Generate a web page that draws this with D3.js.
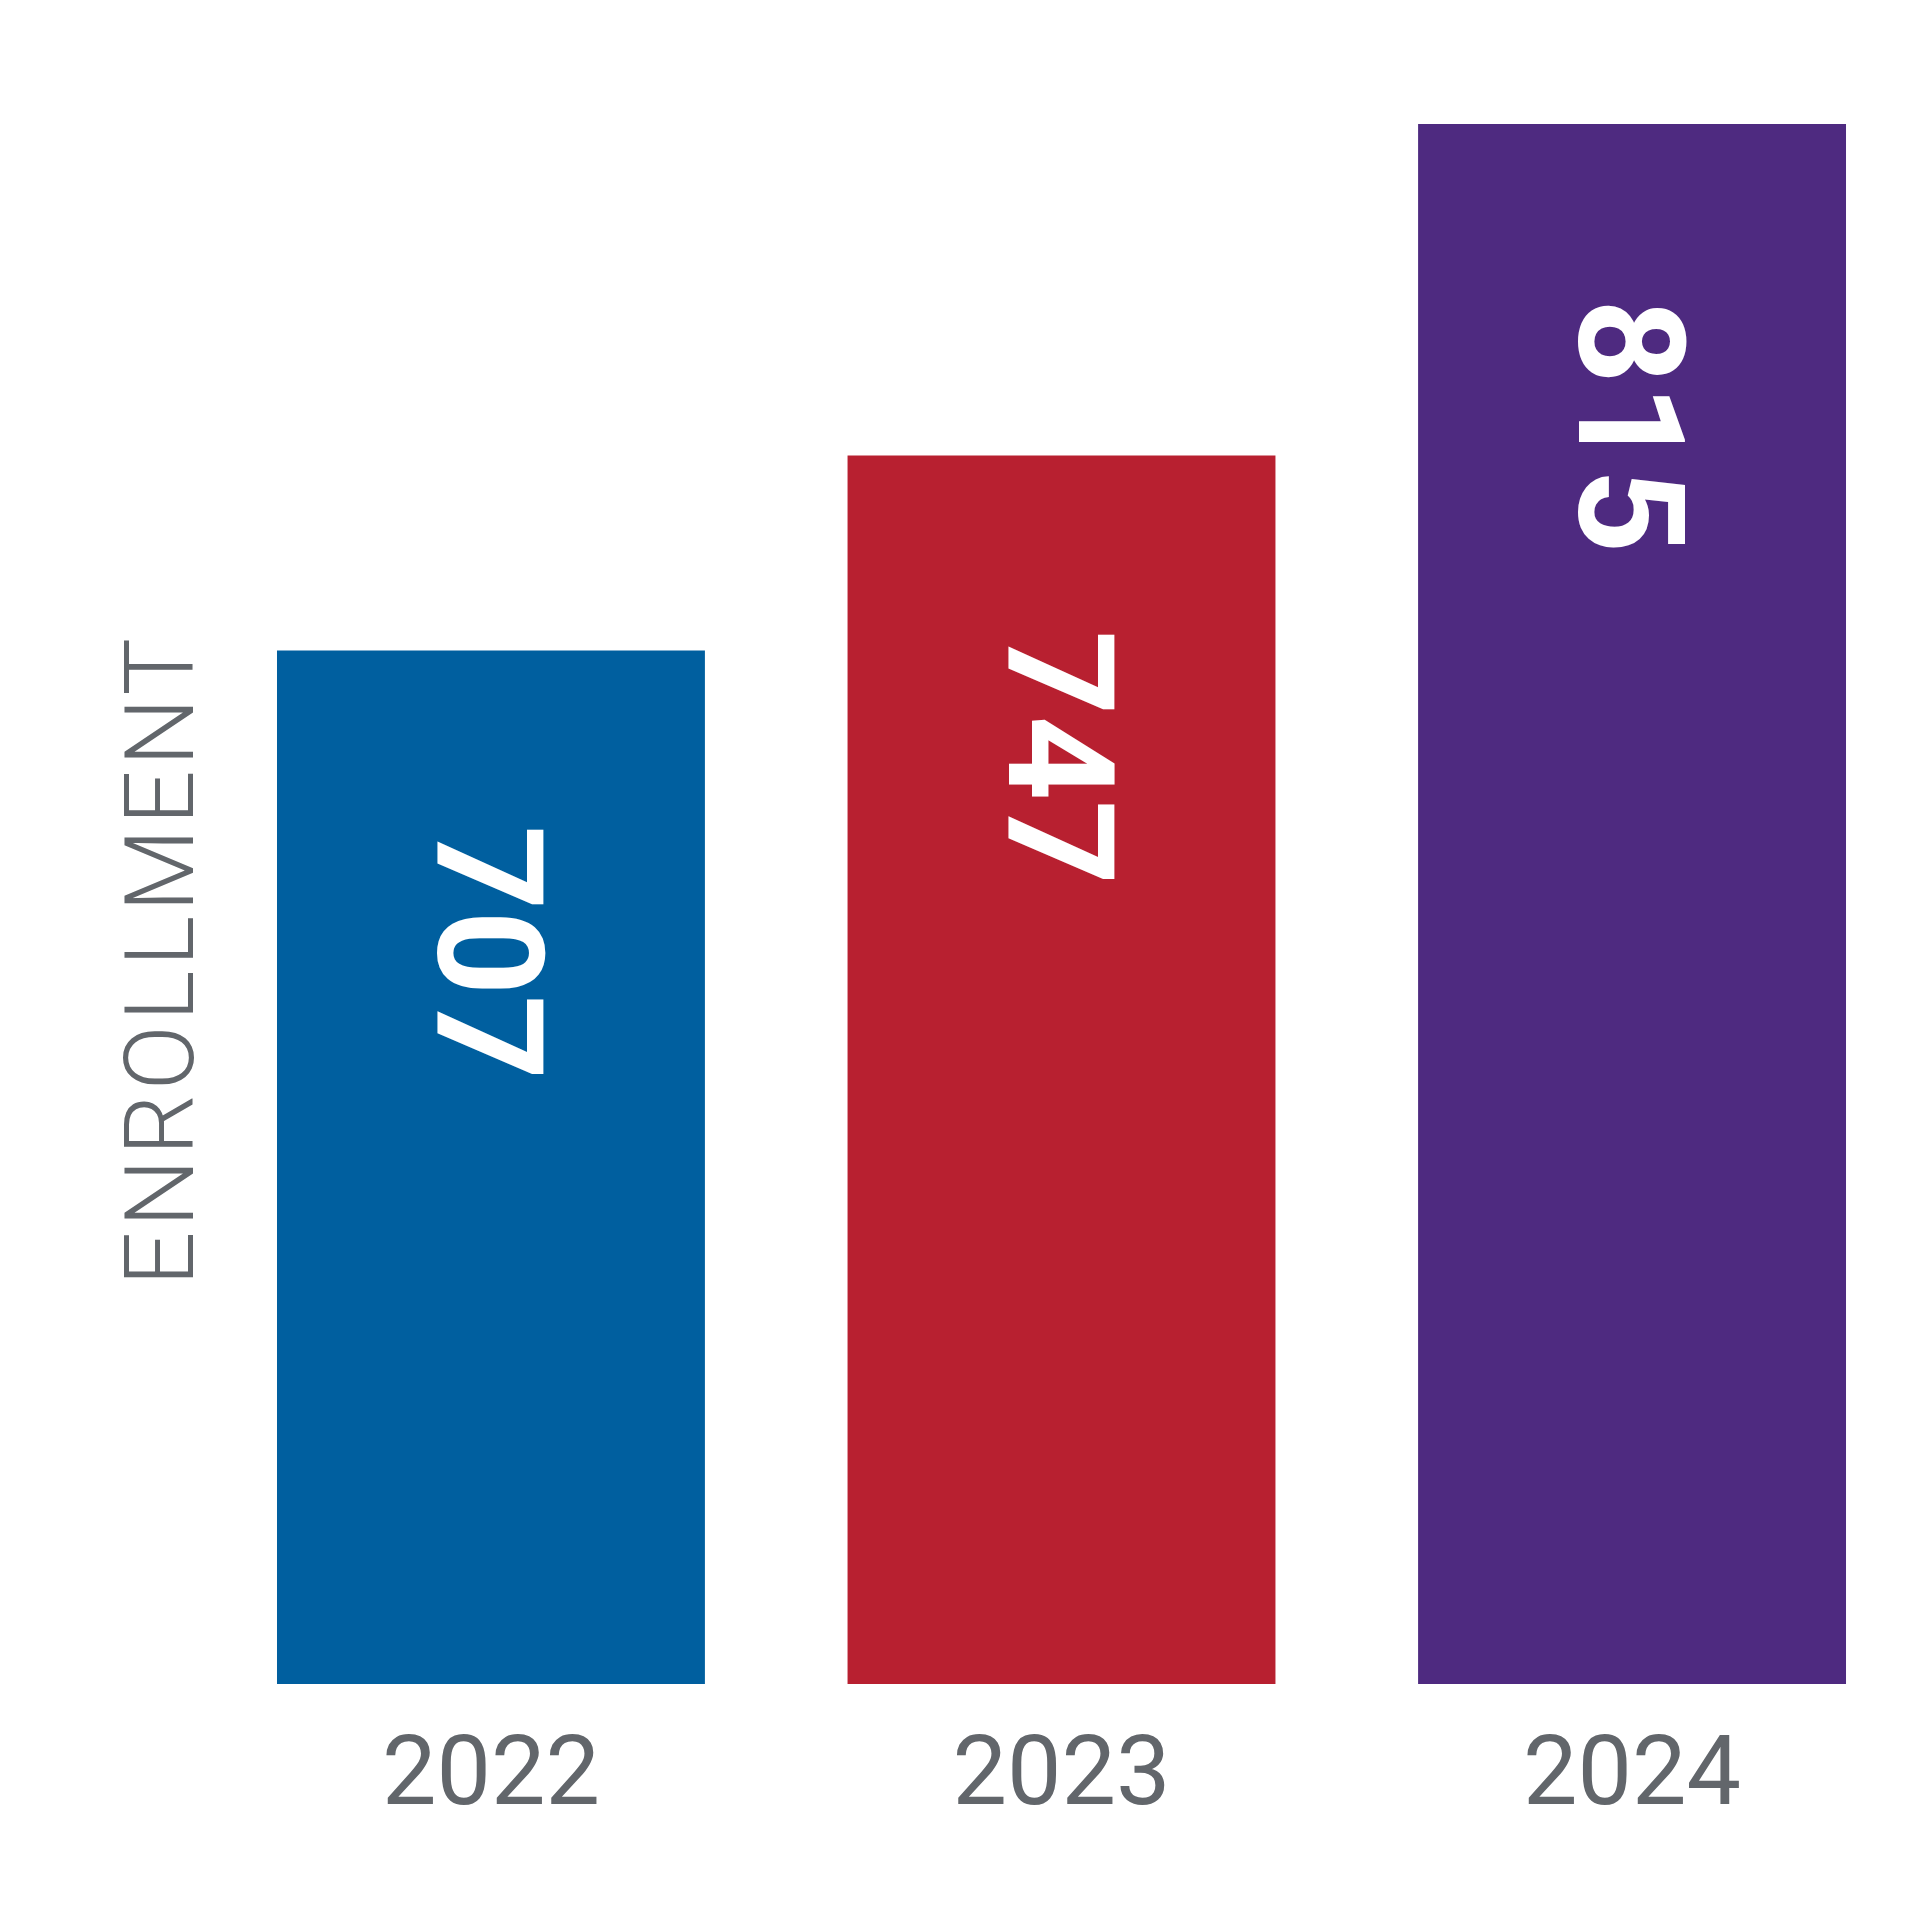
<!DOCTYPE html>
<html>
<head>
<meta charset="utf-8">
<script src="https://cdn.jsdelivr.net/npm/d3@7"></script>
<style>
  body { margin: 0; background: #fff; }
</style>
</head>
<body>
<svg id="chart" width="1920" height="1920"></svg>
<script>
// data
var years = ['2022', '2023', '2024']
var enrollment = [707, 747, 815]
var colors = ['#005f9f', '#b82030', '#4e2a80']

var svg = d3.select('#chart')
var gray = '#62666b'

var x = d3.scaleBand()
    .domain(years)
    .range([180, 1943])
    .paddingInner(0.25)
    .paddingOuter(0.17)

// bars don't start from zero
var y = d3.scaleLinear()
    .domain([495, 815])
    .range([1684, 124])

svg.selectAll('rect.bar')
    .data(years)
    .enter().append('rect')
    .attr('class', 'bar')
    .attr('x', function(d){ return x(d) })
    .attr('width', x.bandwidth())
    .attr('y', function(d, i){ return y(enrollment[i]) })
    .attr('height', function(d, i){ return y.range()[0] - y(enrollment[i]) })
    .attr('fill', function(d, i){ return colors[i] })

// value labels, rotated
svg.selectAll('text.val')
    .data(years)
    .enter().append('text')
    .attr('class', 'val')
    .attr('transform', function(d, i){
        return 'translate(' + (x(d) + x.bandwidth() / 2 - 53) + ',' + (y(enrollment[i]) + 175) + ') rotate(90)'
    })
    .attr('font-family', 'Roboto')
    .attr('font-weight', 'bold')
    .attr('font-size', 148)
    .attr('fill', '#fff')
    .text(function(d, i){ return enrollment[i] })

// x axis labels
svg.selectAll('text.year')
    .data(years)
    .enter().append('text')
    .attr('class', 'year')
    .attr('x', function(d){ return x(d) + x.bandwidth() / 2 })
    .attr('y', 1804)
    .attr('text-anchor', 'middle')
    .attr('font-family', 'Roboto')
    .attr('font-size', 97)
    .attr('fill', gray)
    .text(function(d){ return d })

// y title
svg.append('text')
    .attr('transform', 'translate(193,960) rotate(-90)')
    .attr('text-anchor', 'middle')
    .attr('font-family', 'Roboto')
    .attr('font-weight', 300)
    .attr('font-size', 96)
    .attr('letter-spacing', 4)
    .attr('fill', gray)
    .text('ENROLLMENT')
</script>
</body>
</html>
